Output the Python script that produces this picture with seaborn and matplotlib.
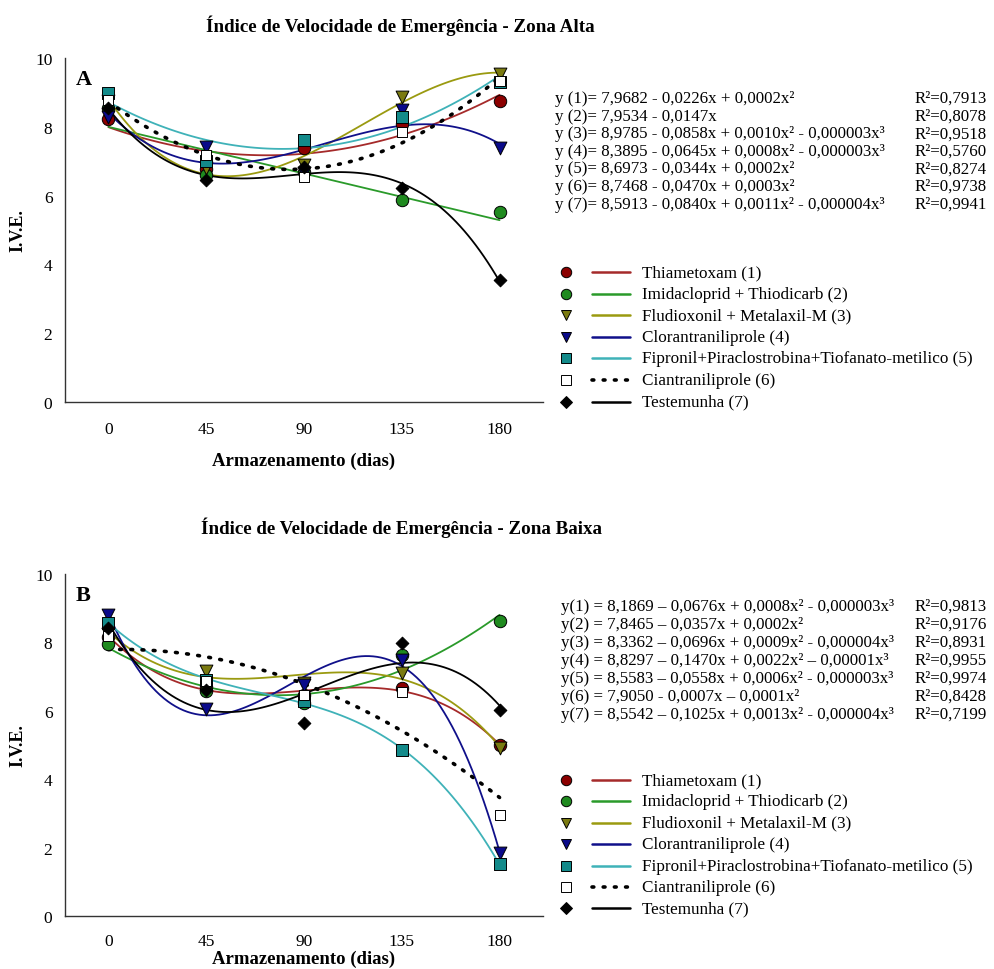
import matplotlib
matplotlib.use('Agg')
import matplotlib.pyplot as plt
import seaborn as sns
from matplotlib.lines import Line2D

# Armazenamento (dias)
dias = [0, 45, 90, 135, 180]

tratamentos = [
    'Thiametoxam (1)',
    'Imidacloprid + Thiodicarb (2)',
    'Fludioxonil + Metalaxil-M (3)',
    'Clorantraniliprole (4)',
    'Fipronil+Piraclostrobina+Tiofanato-metilico (5)',
    'Ciantraniliprole (6)',
    'Testemunha (7)',
]

# IVE - Zona Alta
alta_t1 = [8.22, 6.78, 7.37, 8.07, 8.75]
alta_t2 = [8.54, 6.60, 6.68, 5.88, 5.51]
alta_t3 = [8.75, 6.80, 6.88, 8.88, 9.53]
alta_t4 = [8.29, 7.41, 6.65, 8.49, 7.39]
alta_t5 = [8.98, 7.02, 7.61, 8.29, 9.30]
alta_t6 = [8.78, 7.17, 6.54, 7.85, 9.32]
alta_t7 = [8.56, 6.46, 6.83, 6.22, 3.54]

# IVE - Zona Baixa
baixa_t1 = [8.16, 6.70, 6.45, 6.67, 4.99]
baixa_t2 = [7.94, 6.58, 6.24, 7.64, 8.62]
baixa_t3 = [8.26, 7.16, 6.80, 7.10, 4.91]
baixa_t4 = [8.80, 6.04, 6.74, 7.48, 1.84]
baixa_t5 = [8.58, 6.89, 6.30, 4.84, 1.52]
baixa_t6 = [8.20, 6.86, 6.47, 6.55, 2.95]
baixa_t7 = [8.41, 6.60, 5.64, 7.97, 6.01]

# grau do polinomio ajustado
grau_alta = [2, 1, 3, 3, 2, 2, 3]
grau_baixa = [3, 2, 3, 3, 3, 2, 3]

eq_alta = [
    'y (1)= 7,9682 - 0,0226x + 0,0002x²',
    'y (2)= 7,9534 - 0,0147x',
    'y (3)= 8,9785 - 0,0858x + 0,0010x² - 0,000003x³',
    'y (4)= 8,3895 - 0,0645x + 0,0008x² - 0,000003x³',
    'y (5)= 8,6973 - 0,0344x + 0,0002x²',
    'y (6)= 8,7468 - 0,0470x + 0,0003x²',
    'y (7)= 8,5913 - 0,0840x + 0,0011x² - 0,000004x³',
]
r2_alta = ['R²=0,7913', 'R²=0,8078', 'R²=0,9518', 'R²=0,5760',
           'R²=0,8274', 'R²=0,9738', 'R²=0,9941']

eq_baixa = [
    'y(1) = 8,1869 – 0,0676x + 0,0008x² - 0,000003x³',
    'y(2) = 7,8465 – 0,0357x + 0,0002x²',
    'y(3) = 8,3362 – 0,0696x + 0,0009x² - 0,000004x³',
    'y(4) = 8,8297 – 0,1470x + 0,0022x² – 0,00001x³',
    'y(5) = 8,5583 – 0,0558x + 0,0006x² - 0,000003x³',
    'y(6) = 7,9050 - 0,0007x – 0,0001x²',
    'y(7) = 8,5542 – 0,1025x + 0,0013x² - 0,000004x³',
]
r2_baixa = ['R²=0,9813', 'R²=0,9176', 'R²=0,8931', 'R²=0,9955',
            'R²=0,9974', 'R²=0,8428', 'R²=0,7199']

# estilo de cada tratamento
marcadores = ['o', 'o', 'v', 'v', 's', 's', 'D']
cor_marcador = ['#8b0000', '#1f8a1f', '#7a7a10', '#0a0a8a', '#138a8a', 'white', 'black']
cor_linha = ['#a52a2a', '#2a9a2a', '#9a9a10', '#10108a', '#3fb2b8', 'black', 'black']
tam_marcador = [80, 80, 85, 85, 70, 42, 42]

W, H = 995, 970

sns.set_style('white')
plt.rcParams['font.family'] = ['Liberation Serif', 'DejaVu Serif']
plt.rcParams['text.color'] = 'black'
plt.rcParams['axes.labelcolor'] = 'black'
plt.rcParams['xtick.labelcolor'] = 'black'
plt.rcParams['ytick.labelcolor'] = 'black'


def fig_xy(x, y):
    return x / W, 1 - y / H


def plot_zona(ax, valores, graus, letra, pad_x):
    for i in range(len(tratamentos)):
        kws = dict(color=cor_linha[i], lw=1.3, zorder=3)
        if i == 5:
            kws = dict(color='black', lw=2.6, ls=(0, (0.5, 2.6)),
                       dash_capstyle='round', zorder=3)
        sns.regplot(x=dias, y=valores[i], order=graus[i], ci=None,
                    scatter=False, truncate=True, ax=ax, line_kws=kws)
    for i in range(len(tratamentos)):
        sns.scatterplot(x=dias, y=valores[i], marker=marcadores[i],
                        color=cor_marcador[i], edgecolor='black',
                        linewidth=0.7, s=tam_marcador[i], ax=ax, zorder=4)

    ax.set_xlim(-20, 200)
    ax.set_ylim(0, 10)
    ax.set_xticks(dias)
    ax.set_yticks([0, 2, 4, 6, 8, 10])
    sns.despine(ax=ax)
    for s in ['left', 'bottom']:
        ax.spines[s].set_color('#333333')
        ax.spines[s].set_linewidth(1.0)
    ax.tick_params(axis='x', direction='out', length=5, width=0.8,
                   pad=pad_x, labelsize=12.5, color='#333333', labelcolor='black')
    ax.tick_params(axis='y', direction='out', length=5, width=0.8,
                   pad=4, labelsize=12.5, color='#333333', labelcolor='black')
    ax.text(0.022, 0.94, letra, transform=ax.transAxes, fontsize=16,
            fontweight='bold', ha='left', va='center', color='black')
    ax.set_ylabel('I.V.E.', fontsize=13, fontweight='bold', va='center', color='black')
    ax.yaxis.set_label_coords(-0.098, 0.5)


def legenda(y0, passo):
    for i, nome in enumerate(tratamentos):
        y = y0 + i * passo
        mx, my = fig_xy(566, y)
        fig.add_artist(Line2D([mx], [my], marker=marcadores[i], ms=7.5 if i < 5 else 6.5,
                              mfc=cor_marcador[i], mec='black', mew=0.7,
                              ls='none', transform=fig.transFigure))
        x1, yy = fig_xy(592, y)
        x2, _ = fig_xy(630, y)
        if i == 5:
            fig.add_artist(Line2D([x1, x2], [yy, yy], color='black', lw=2.6,
                                  ls=(0, (0.5, 2.6)), dash_capstyle='round',
                                  transform=fig.transFigure))
        else:
            fig.add_artist(Line2D([x1, x2], [yy, yy], color=cor_linha[i], lw=1.8,
                                  transform=fig.transFigure))
        tx, ty = fig_xy(642, y)
        fig.text(tx, ty, nome, fontsize=12.3, ha='left', va='center', color='black')


def equacoes(eqs, r2s, x0, y0, passo):
    for i in range(len(eqs)):
        x, y = fig_xy(x0, y0 + i * passo)
        fig.text(x, y, eqs[i], fontsize=12.2, ha='left', va='center', color='black')
        xr, _ = fig_xy(987, y0 + i * passo)
        fig.text(xr, y, r2s[i], fontsize=12.2, ha='right', va='center', color='black')


fig = plt.figure(figsize=(W / 100, H / 100), dpi=100)

ax_a = fig.add_axes([65 / W, 1 - 403 / H, 478 / W, 344 / H])
ax_b = fig.add_axes([65 / W, 1 - 917 / H, 478 / W, 342 / H])

plot_zona(ax_a, [alta_t1, alta_t2, alta_t3, alta_t4, alta_t5, alta_t6, alta_t7],
          grau_alta, 'A', pad_x=9)
plot_zona(ax_b, [baixa_t1, baixa_t2, baixa_t3, baixa_t4, baixa_t5, baixa_t6, baixa_t7],
          grau_baixa, 'B', pad_x=7)

ax_a.set_xlabel('Armazenamento (dias)', fontsize=13.5, fontweight='bold', va='center')
ax_a.xaxis.set_label_coords(0.5, -58 / 344)
ax_b.set_xlabel('Armazenamento (dias)', fontsize=13.5, fontweight='bold', va='center')
ax_b.xaxis.set_label_coords(0.5, -42 / 342)

tx, ty = fig_xy(400, 26)
fig.text(tx, ty, 'Índice de Velocidade de Emergência - Zona Alta',
         fontsize=13.7, fontweight='bold', ha='center', va='center')
tx, ty = fig_xy(402, 528)
fig.text(tx, ty, 'Índice de Velocidade de Emergência - Zona Baixa',
         fontsize=13.7, fontweight='bold', ha='center', va='center')

equacoes(eq_alta, r2_alta, 555, 99, 17.6)
equacoes(eq_baixa, r2_baixa, 561, 607, 18.0)

legenda(273, 21.6)
legenda(781, 21.4)

fig.savefig('out.png', dpi=100)
